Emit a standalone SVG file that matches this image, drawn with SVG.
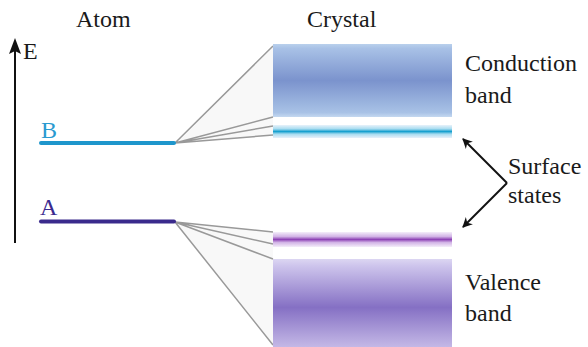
<svg xmlns="http://www.w3.org/2000/svg" width="588" height="347" viewBox="0 0 588 347">
<style>
text{font-family:'Liberation Serif','Times New Roman','DejaVu Serif',serif;font-size:24px;fill:#1a1a1a}
.fan{fill:#f8f8f8;stroke:none}
.fl{stroke:#999;stroke-width:1.5;fill:none}
</style>
<defs>
<linearGradient id="gc" x1="0" y1="0" x2="0" y2="1">
<stop offset="0" stop-color="#b9d0ec"/>
<stop offset="0.06" stop-color="#a8c1e6"/>
<stop offset="0.5" stop-color="#7b93cd"/>
<stop offset="0.94" stop-color="#a8c2e6"/>
<stop offset="1" stop-color="#c4d8f0"/>
</linearGradient>
<linearGradient id="gb" x1="0" y1="0" x2="0" y2="1">
<stop offset="0" stop-color="#e8f2fa"/>
<stop offset="0.3" stop-color="#a8dcf0"/>
<stop offset="0.5" stop-color="#17a0cf"/>
<stop offset="0.7" stop-color="#a8dcf0"/>
<stop offset="1" stop-color="#e8f0fa"/>
</linearGradient>
<linearGradient id="ga" x1="0" y1="0" x2="0" y2="1">
<stop offset="0" stop-color="#f4eefa"/>
<stop offset="0.3" stop-color="#d2b4e6"/>
<stop offset="0.5" stop-color="#8e44b6"/>
<stop offset="0.7" stop-color="#d2b4e6"/>
<stop offset="1" stop-color="#f4eefa"/>
</linearGradient>
<linearGradient id="gv" x1="0" y1="0" x2="0" y2="1">
<stop offset="0" stop-color="#dcd6f2"/>
<stop offset="0.08" stop-color="#cdc4ec"/>
<stop offset="0.55" stop-color="#8570c4"/>
<stop offset="1" stop-color="#c4b8e6"/>
</linearGradient>
<marker id="ah" viewBox="0 0 10 10" refX="9" refY="5" markerWidth="10" markerHeight="10" markerUnits="userSpaceOnUse" orient="auto">
<path d="M0,0 L10,5 L0,10 L3,5 Z" fill="#111"/>
</marker>
</defs>

<g id="axis">
<line x1="15" y1="243" x2="15" y2="50" stroke="#111" stroke-width="2"/>
<path d="M15,38 L21,54 L15,51 L9,54 Z" fill="#111"/>
<text x="23" y="59" font-family="Liberation Serif, serif" font-size="25">E</text>
</g>

<text x="76" y="27" font-family="Liberation Serif, serif">Atom</text>
<text x="307" y="27" font-family="Liberation Serif, serif">Crystal</text>

<g id="connectors">
<polygon class="fan" points="175,143 273,46 273,136"/>
<polygon class="fan" points="175,222 273,232 273,345"/>
<path class="fl" d="M175,143 L273,46 M175,143 L273,117 M175,143 L273,126 M175,143 L273,135"/>
<path class="fl" d="M175,222 L273,232 M175,222 L273,244 M175,222 L273,259 M175,222 L273,345"/>
<line x1="507" y1="183" x2="463" y2="139" stroke="#111" stroke-width="2" marker-end="url(#ah)"/>
<line x1="507" y1="183" x2="463" y2="227" stroke="#111" stroke-width="2" marker-end="url(#ah)"/>
</g>

<g id="levelB">
<line x1="41" y1="143" x2="174" y2="143" stroke="#1e96cc" stroke-width="4" stroke-linecap="round"/>
<text x="41" y="138" font-family="Liberation Serif, serif" style="fill:#2a9ad0">B</text>
</g>
<g id="levelA">
<line x1="41" y1="221.5" x2="174" y2="221.5" stroke="#3a2a8c" stroke-width="4" stroke-linecap="round"/>
<text x="40" y="215" font-family="Liberation Serif, serif" style="fill:#3b2a8f">A</text>
</g>

<g id="conduction">
<rect x="273" y="44" width="179" height="73" fill="url(#gc)"/>
<text x="465" y="71" font-family="Liberation Serif, serif">Conduction</text>
<text x="465" y="103" font-family="Liberation Serif, serif">band</text>
</g>
<g id="surfaceB">
<rect x="273" y="125" width="179" height="13" fill="url(#gb)"/>
</g>
<g id="surfaceA">
<rect x="273" y="232" width="179" height="15" fill="url(#ga)"/>
</g>
<g id="valence">
<rect x="273" y="259" width="179" height="88" fill="url(#gv)"/>
<text x="465" y="290" font-family="Liberation Serif, serif">Valence</text>
<text x="465" y="321" font-family="Liberation Serif, serif">band</text>
</g>
<g id="surface">
<text x="508" y="174" font-family="Liberation Serif, serif">Surface</text>
<text x="508" y="203" font-family="Liberation Serif, serif">states</text>
</g>
</svg>
